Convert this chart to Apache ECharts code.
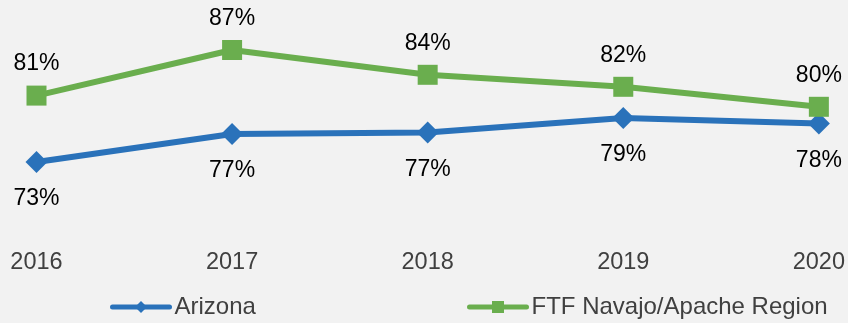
<!DOCTYPE html>
<html>
<head>
<meta charset="utf-8">
<script src="https://cdn.jsdelivr.net/npm/echarts@6/dist/echarts.min.js"></script>
<style>
  html, body { margin: 0; padding: 0; background: #f2f2f2; }
  #chart { width: 848px; height: 323px; }
</style>
</head>
<body>
<div id="chart"></div>
<script>
// Years shown along the x axis
const years = ['2016', '2017', '2018', '2019', '2020'];

// Share of respondents (%), by year
const arizona = [73.0, 76.5, 76.7, 78.5, 77.8];
const navajoApache = [81.3, 87.0, 83.9, 82.4, 79.9];

const seriesNames = ['Arizona', 'FTF Navajo/Apache Region'];

const blue = '#2a72ba';
const green = '#6aae4e';
const font = 'Liberation Sans, Arial, sans-serif';

const pct = p => Math.round(p.value) + '%';

const legendBase = {
  top: 295,
  padding: 0,
  itemWidth: 57,
  itemHeight: 15,
  lineStyle: { width: 5, cap: 'round' },
  textStyle: { fontSize: 24, color: '#404040', fontFamily: font }
};

const chart = echarts.init(document.getElementById('chart'), null, { renderer: 'canvas' });

chart.setOption({
  backgroundColor: '#f2f2f2',
  animation: false,
  textStyle: { fontFamily: font },
  grid: { left: 36.5, right: 27, top: 26, bottom: 137, containLabel: false },
  legend: [
    Object.assign({ data: [seriesNames[0]], left: 110 }, legendBase),
    Object.assign({ data: [seriesNames[1]], left: 467 }, legendBase)
  ],
  xAxis: {
    type: 'category',
    data: years,
    boundaryGap: false,
    axisLine: { show: false },
    axisTick: { show: false },
    splitLine: { show: false },
    axisLabel: { fontSize: 23.5, color: '#404040', margin: 65, fontFamily: font }
  },
  yAxis: {
    type: 'value',
    min: 70, max: 90,
    show: false
  },
  series: [
    {
      name: seriesNames[0],
      type: 'line',
      data: arizona,
      symbol: 'diamond',
      symbolSize: 22,
      lineStyle: { color: blue, width: 6 },
      itemStyle: { color: blue },
      label: {
        show: true, position: 'bottom', distance: 14.5,
        formatter: pct, fontSize: 23, color: '#000', fontFamily: font
      }
    },
    {
      name: seriesNames[1],
      type: 'line',
      data: navajoApache,
      symbol: 'rect',
      symbolSize: 20,
      lineStyle: { color: green, width: 6 },
      itemStyle: { color: green },
      label: {
        show: true, position: 'top', distance: 10,
        formatter: pct, fontSize: 23, color: '#000', fontFamily: font
      }
    }
  ]
});
</script>
</body>
</html>
